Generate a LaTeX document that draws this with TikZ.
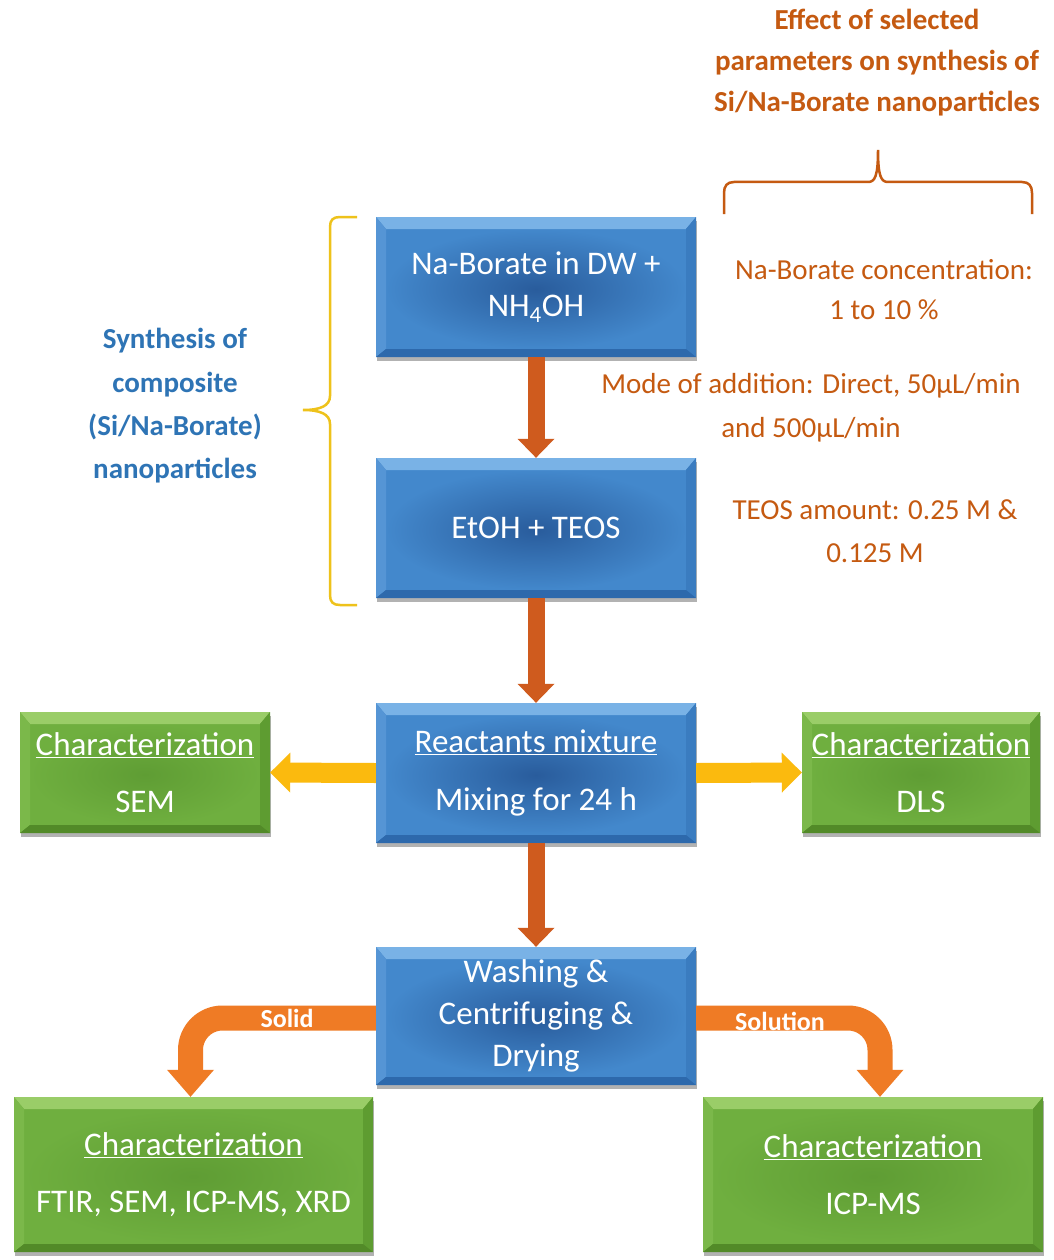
\documentclass[tikz,border=0pt]{standalone}
\usepackage{fontspec}
\setmainfont{Carlito}
\usetikzlibrary{arrows.meta,shadows}

\definecolor{brn}{HTML}{C55A11}
\definecolor{lblue}{HTML}{2E74B5}
\definecolor{vorange}{HTML}{CF5B1E}
\definecolor{borange}{HTML}{EF7B25}
\definecolor{ylw}{HTML}{FBBA0E}
\definecolor{bracey}{HTML}{EEC21B}
% blue bevel
\definecolor{bBase}{HTML}{3C7DC3}
\definecolor{bT}{HTML}{79B2E6}
\definecolor{bL}{HTML}{5595D5}
\definecolor{bR}{HTML}{3A7CC0}
\definecolor{bB}{HTML}{2D69AC}
\definecolor{bIn}{HTML}{295C9C}
\definecolor{bOut}{HTML}{4388CC}
% green bevel
\definecolor{gBase}{HTML}{6AAA3A}
\definecolor{gT}{HTML}{9ACD68}
\definecolor{gL}{HTML}{7BB84A}
\definecolor{gR}{HTML}{5E9C31}
\definecolor{gB}{HTML}{528A28}
\definecolor{gIn}{HTML}{5F9D34}
\definecolor{gOut}{HTML}{6FAF3F}

\newcommand\bevelpic[6]{%
  \coordinate (qa) at (path picture bounding box.north west);
  \coordinate (qb) at (path picture bounding box.north east);
  \coordinate (qc) at (path picture bounding box.south east);
  \coordinate (qd) at (path picture bounding box.south west);
  \coordinate (ia) at ([xshift=10pt,yshift=-12pt]qa);
  \coordinate (ib) at ([xshift=-10pt,yshift=-12pt]qb);
  \coordinate (ic) at ([xshift=-10pt,yshift=8pt]qc);
  \coordinate (id) at ([xshift=10pt,yshift=8pt]qd);
  \shade[inner color=#5,outer color=#6] (ia) rectangle (ic);
  \fill[#1] (qa)--(qb)--(ib)--(ia)--cycle;
  \fill[#2] (qa)--(ia)--(id)--(qd)--cycle;
  \fill[#3] (qb)--(ib)--(ic)--(qc)--cycle;
  \fill[#4] (qd)--(id)--(ic)--(qc)--cycle;
}
\newcommand\bxfont{\fontsize{33}{42}\selectfont}
\newcommand\txfont{\fontsize{29}{42}\selectfont}
\newcommand\lbfont{\fontsize{26}{30}\selectfont\bfseries}

\begin{document}
\begin{tikzpicture}[x=1pt,y=-1pt,
  boxshadow/.style={drop shadow={shadow xshift=1pt,shadow yshift=-4pt,opacity=0.3,fill=black}},
  bluebox/.style={rectangle, minimum width=320pt, minimum height=140pt, inner sep=0pt,
    align=center, text=white, font=\bxfont, fill=bBase, boxshadow,
    path picture={\bevelpic{bT}{bL}{bR}{bB}{bIn}{bOut}}},
  greenbox/.style={rectangle, inner sep=0pt, align=center, text=white, font=\bxfont,
    fill=gBase, boxshadow,
    path picture={\bevelpic{gT}{gL}{gR}{gB}{gIn}{gOut}}},
  vflow/.style={draw=vorange, line width=17pt,
    -{Triangle[width=37pt,length=19pt,line width=0pt]}},
  yflow/.style={draw=ylw, line width=20pt,
    -{Triangle[width=40pt,length=20pt,line width=0pt]}},
  oflow/.style={draw=borange, line width=25pt, rounded corners=32pt,
    -{Triangle[width=47pt,length=27pt,line width=0pt]}},
  brtext/.style={text=brn, font=\txfont, align=center, inner sep=0pt},
  bltext/.style={text=lblue, font=\txfont\bfseries, align=center, inner sep=0pt},
  flowlabel/.style={text=white, font=\lbfont, inner sep=0pt}
]
\useasboundingbox (0,0) rectangle (1054,1260);
\fill[white] (0,0) rectangle (1054,1260);

% main blue boxes
\node[bluebox] (b1) at (536,287) {Na-Borate in DW +\\NH\textsubscript{4}OH};
\node[bluebox] (b2) at (536,528) {EtOH + TEOS};
\node[bluebox] (b3) at (536,773) {\underline{Reactants mixture}\\[16pt]Mixing for 24 h};
\node[bluebox, minimum height=138pt] (b4) at (536,1016) {Washing \&\\Centrifuging \&\\Drying};

% green boxes
\node[greenbox, minimum width=250pt, minimum height=121pt] (gsem) at (145,772.5)
  {\underline{Characterization}\\[15pt]SEM};
\node[greenbox, minimum width=238pt, minimum height=121pt] (gdls) at (921,772.5)
  {\underline{Characterization}\\[15pt]DLS};
\node[greenbox, minimum width=359pt, minimum height=155pt] (gleft) at (193.5,1174.5)
  {\underline{Characterization}\\[15pt]FTIR, SEM, ICP-MS, XRD};
\node[greenbox, minimum width=340pt, minimum height=155pt] (gright) at (873,1174.5)
  {\underline{Characterization}\\[15pt]ICP-MS};

% vertical flow arrows
\draw[vflow] (b1.south) -- (b2.north);
\draw[vflow] (b2.south) -- (b3.north);
\draw[vflow] (b3.south) -- (b4.north);

% yellow side arrows
\draw[yflow] (b3.west) -- (gsem.east);
\draw[yflow] (b3.east) -- (gdls.west);

% bottom branches
\draw[oflow] ([yshift=-2pt]b4.west) -| ([xshift=-3pt]gleft.north);
\draw[oflow] ([yshift=-2pt]b4.east) -| ([xshift=7pt]gright.north);
\node[flowlabel] (lsolid) at (287,1018) {Solid};
\node[flowlabel] (lsolution) at (780,1021) {Solution};

% left brace and text
\draw[bracey, line width=2.5pt] (357,217) -- (340,217)
  .. controls (333,217) and (330,220) .. (330,227) -- (330,396)
  .. controls (330,406) and (320,410) .. (303,410)
  .. controls (320,410) and (330,414) .. (330,424) -- (330,595)
  .. controls (330,602) and (333,605) .. (340,605) -- (357,605);
\node[bltext, font=\fontsize{29}{43.3}\selectfont\bfseries] (synth) at (175,406)
  {Synthesis of\\composite\\(Si/Na-Borate)\\nanoparticles};

% top brace and title
\draw[brn, line width=2.5pt] (724,214) -- (724,193)
  .. controls (724,186) and (727,182) .. (734,182) -- (868,182)
  .. controls (875,182) and (878,176) .. (878,150)
  .. controls (878,176) and (881,182) .. (888,182) -- (1022,182)
  .. controls (1029,182) and (1032,186) .. (1032,193) -- (1032,214);
\node[brtext, font=\fontsize{29}{41}\selectfont\bfseries] (effect) at (877,63)
  {Effect of selected\\parameters on synthesis of\\Si/Na-Borate nanoparticles};

% parameter texts
\node[brtext, font=\fontsize{29}{40}\selectfont] (p1) at (884,290)
  {Na-Borate concentration:\\1 to 10 \%};
\node[brtext, font=\fontsize{29}{44}\selectfont] (p2) at (811,408)
  {Mode of addition: Direct, 50µL/min\\and 500µL/min};
\node[brtext, font=\fontsize{29}{43}\selectfont] (p3) at (875,531)
  {TEOS amount: 0.25 M \&\\0.125 M};
\end{tikzpicture}
\end{document}
